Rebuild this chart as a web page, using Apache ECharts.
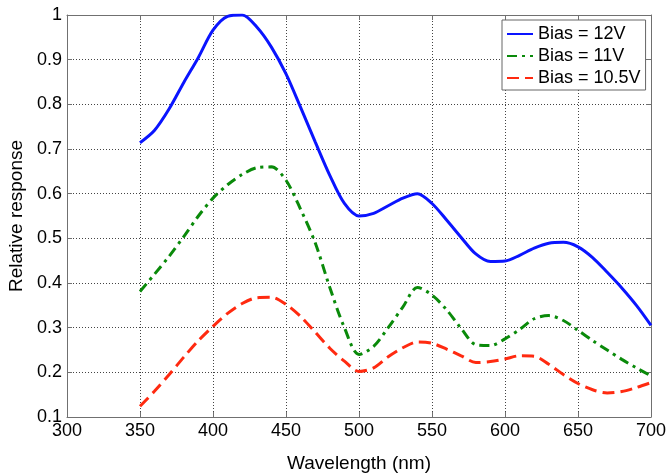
<!DOCTYPE html>
<html><head><meta charset="utf-8">
<script src="https://cdn.jsdelivr.net/npm/echarts@6/dist/echarts.min.js"></script>
<style>html,body{margin:0;padding:0;background:#fff}#c{width:667px;height:474px}</style>
</head><body><div id="c"></div><script>
const wavelengths = [350,360,370,380,390,400,410,420,430,440,450,460,470,480,490,500,510,520,530,540,550,560,570,580,590,600,610,620,630,640,650,660,670,680,690,700];
const bias12 = [0.714,0.742,0.790,0.849,0.905,0.966,0.997,1.000,0.973,0.928,0.868,0.793,0.716,0.641,0.578,0.550,0.556,0.573,0.590,0.600,0.578,0.541,0.502,0.465,0.448,0.449,0.462,0.478,0.489,0.491,0.481,0.457,0.424,0.389,0.350,0.305];
const bias11 = [0.381,0.420,0.460,0.504,0.550,0.590,0.620,0.643,0.658,0.660,0.630,0.565,0.490,0.390,0.300,0.240,0.258,0.300,0.346,0.390,0.373,0.340,0.298,0.262,0.260,0.275,0.296,0.320,0.327,0.316,0.294,0.271,0.250,0.229,0.210,0.192];
const bias105 = [0.124,0.158,0.195,0.234,0.271,0.303,0.332,0.354,0.367,0.368,0.352,0.325,0.290,0.254,0.225,0.202,0.210,0.235,0.255,0.268,0.265,0.252,0.237,0.222,0.224,0.230,0.237,0.236,0.218,0.195,0.175,0.161,0.154,0.157,0.166,0.177];
const seriesNames = ['Bias = 12V','Bias = 11V','Bias = 10.5V'];
const xTickLabels = ['300','350','400','450','500','550','600','650','700'];
const yTickLabels = ['0.1','0.2','0.3','0.4','0.5','0.6','0.7','0.8','0.9','1'];

const FONT = "'Liberation Sans', Arial, sans-serif";
const pair = arr => wavelengths.map((w,i)=>[w,arr[i]]);
const chart = echarts.init(document.getElementById('c'), null, {renderer:'canvas'});
const axisCol = '#707070';
const gridLine = {show:true, lineStyle:{color:'#444', width:1, type:[1,2]}};
const xFmt = v => { const i = Math.round((v-300)/50); return xTickLabels[i] ?? ''; };
const yFmt = v => { const i = Math.round((v-0.1)/0.1); return yTickLabels[i] ?? ''; };
chart.setOption({
  animation:false,
  backgroundColor:'#fff',
  textStyle:{fontFamily:FONT},
  grid:{left:67, right:16, top:15, bottom:57, containLabel:false, outerBoundsMode:'none'},
  legend:{
    left:502, top:20, orient:'vertical',
    backgroundColor:'#fff', borderColor:'#666', borderWidth:1, borderRadius:0,
    padding:[4,5,2,4], itemGap:2, itemWidth:26, itemHeight:14,
    itemStyle:{opacity:0},
    textStyle:{fontFamily:FONT, fontSize:18, color:'#000', lineHeight:20},
    data:seriesNames
  },
  xAxis:[{
    type:'value', min:300, max:700, interval:50, position:'bottom',
    name:'Wavelength (nm)', nameLocation:'middle', nameGap:37,
    nameTextStyle:{fontFamily:FONT, fontSize:19, color:'#000'},
    axisLine:{show:true, onZero:false, lineStyle:{color:axisCol, width:1}},
    axisTick:{show:true, inside:true, length:5, lineStyle:{color:axisCol}},
    axisLabel:{fontFamily:FONT, fontSize:18, color:'#000', margin:5, formatter:xFmt},
    splitLine:gridLine
  },{
    type:'value', min:300, max:700, interval:50, position:'top',
    axisLine:{show:true, onZero:false, lineStyle:{color:axisCol, width:1}},
    axisTick:{show:true, inside:true, length:5, lineStyle:{color:axisCol}},
    axisLabel:{show:false}, splitLine:{show:false}
  }],
  yAxis:[{
    type:'value', min:0.1, max:1, interval:0.1, position:'left',
    name:'Relative response', nameLocation:'middle', nameGap:40,
    nameTextStyle:{fontFamily:FONT, fontSize:19, color:'#000'},
    axisLine:{show:true, onZero:false, lineStyle:{color:axisCol, width:1}},
    axisTick:{show:true, inside:true, length:5, lineStyle:{color:axisCol}},
    axisLabel:{fontFamily:FONT, fontSize:18, color:'#000', margin:5, formatter:yFmt},
    splitLine:gridLine
  },{
    type:'value', min:0.1, max:1, interval:0.1, position:'right',
    axisLine:{show:true, onZero:false, lineStyle:{color:axisCol, width:1}},
    axisTick:{show:true, inside:true, length:5, lineStyle:{color:axisCol}},
    axisLabel:{show:false}, splitLine:{show:false}
  }],
  series:[
    {name:seriesNames[0], type:'line', data:pair(bias12), smooth:0.3, symbol:'none', clip:true,
      lineStyle:{color:'#0a14ff', width:3}, itemStyle:{color:'#0a14ff'}},
    {name:seriesNames[1], type:'line', data:pair(bias11), smooth:0.3, symbol:'none', clip:true,
      lineStyle:{color:'#0a8a0a', width:3, type:[10,5,3,5]}, itemStyle:{color:'#0a8a0a'}},
    {name:seriesNames[2], type:'line', data:pair(bias105), smooth:0.3, symbol:'none', clip:true,
      lineStyle:{color:'#ff2a10', width:3, type:[12,6]}, itemStyle:{color:'#ff2a10'}}
  ]
});
</script></body></html>
